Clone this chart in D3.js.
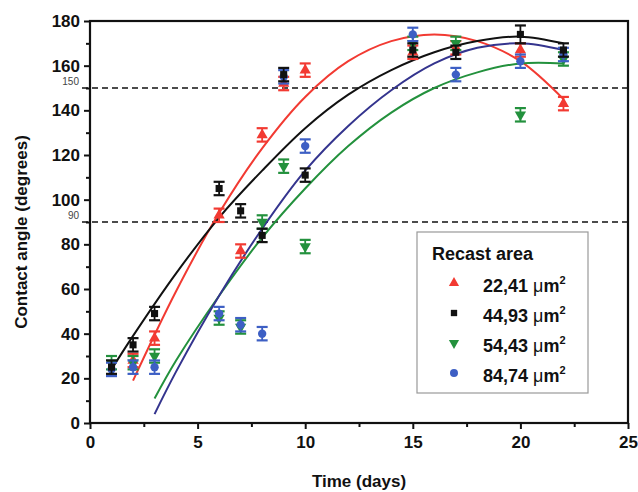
<!DOCTYPE html>
<html>
<head>
<meta charset="utf-8">
<script src="https://cdn.jsdelivr.net/npm/d3@7"></script>
<style>
  html, body { margin: 0; padding: 0; background: #fff; }
  svg { display: block; font-family: "Liberation Sans", Arial, sans-serif; }
</style>
</head>
<body>
<svg id="chart" width="638" height="492"></svg>
<script>
// Contact angle measurements over time for four recast areas
const seriesNames = ["22,41", "44,93", "54,43", "84,74"];
const seriesColors = ["#f23a32", "#111111", "#23913d", "#3d5fc4"];
const fitColors = ["#f23a32", "#111111", "#23913d", "#34348e"];

const redDays = [2, 3, 6, 7, 8, 9, 10, 15, 17, 20, 22];
const redAngle = [28, 38, 93, 77, 129, 152, 158, 166, 168, 167, 143];
const redErr = [3, 3, 3, 3, 3, 3, 3, 3, 3, 3, 3];

const blackDays = [1, 2, 3, 6, 7, 8, 9, 10, 15, 17, 20, 22];
const blackAngle = [25, 35, 49, 105, 95, 84, 156, 111, 167, 166, 174, 167];
const blackErr = [3, 3, 3, 3, 3, 3, 3, 3, 3, 3, 4, 3];

const greenDays = [1, 2, 3, 6, 7, 8, 9, 10, 15, 17, 20, 22];
const greenAngle = [27, 27, 30, 47, 43, 90, 115, 79, 170, 170, 138, 163];
const greenErr = [3, 3, 3, 3, 3, 3, 3, 3, 3, 3, 3, 3];

const blueDays = [1, 2, 3, 6, 7, 8, 9, 10, 15, 17, 20, 22];
const blueAngle = [24, 25, 25, 49, 44, 40, 155, 124, 174, 156, 162, 165];
const blueErr = [3, 3, 3, 3, 3, 3, 3, 3, 3, 3, 3, 3];

// Polynomial trend lines, sampled along each curve
const redFitDays = [2, 4, 6, 8, 10, 12, 14, 16, 18, 20, 22];
const redFit = [19, 59, 94, 123, 146, 162, 171, 174, 171, 162, 145];
const blackFitDays = [1, 2, 4, 6, 8, 10, 12, 14, 16, 18, 20, 22];
const blackFit = [24, 39, 67, 92, 113, 132, 147, 158, 166, 171, 173, 170];
const greenFitDays = [3, 4, 6, 8, 10, 12, 14, 16, 18, 20, 22];
const greenFit = [11, 28, 57, 83, 105, 124, 139, 150, 157, 161, 161];
const blueFitDays = [3, 4, 6, 8, 10, 12, 14, 16, 18, 20, 22];
const blueFit = [4, 23, 57, 87, 113, 133, 149, 161, 168, 170, 167];

const xTicks = [0, 5, 10, 15, 20, 25];
const yTicks = [0, 20, 40, 60, 80, 100, 120, 140, 160, 180];
const refLines = [150, 90];

const svg = d3.select("#chart");
const plot = { left: 90, right: 628, top: 21, bottom: 423 };

const x = d3.scaleLinear().domain([0, 25]).range([plot.left, plot.right]);
const y = d3.scaleLinear().domain([0, 180]).range([plot.bottom, plot.top]);

// Minor ticks
const xMinor = d3.range(2.5, 25, 5);
const yMinor = d3.range(10, 180, 20);

const yAxis = svg.append("g")
  .attr("transform", `translate(${plot.left},0)`)
  .call(d3.axisLeft(y).tickValues(yTicks).tickSize(6).tickPadding(4));
const yMinorAxis = svg.append("g")
  .attr("transform", `translate(${plot.left},0)`)
  .call(d3.axisLeft(y).tickValues(yMinor).tickSize(4).tickFormat(""));
const xAxis = svg.append("g")
  .attr("transform", `translate(0,${plot.bottom})`)
  .call(d3.axisBottom(x).tickValues(xTicks).tickSize(6).tickPadding(7));
const xMinorAxis = svg.append("g")
  .attr("transform", `translate(0,${plot.bottom})`)
  .call(d3.axisBottom(x).tickValues(xMinor).tickSize(4).tickFormat(""));

[yAxis, yMinorAxis, xAxis, xMinorAxis].forEach(g => {
  g.select(".domain").remove();
  g.selectAll("line").attr("stroke", "#111").attr("stroke-width", 2);
  g.selectAll("text")
    .attr("font-family", "Liberation Sans, Arial, sans-serif")
    .attr("font-weight", "bold")
    .attr("font-size", 17)
    .attr("fill", "#111");
});

// Reference lines at 150 and 90 degrees
svg.append("g").selectAll("line").data(refLines).join("line")
  .attr("x1", plot.left - 8).attr("x2", plot.right)
  .attr("y1", d => y(d)).attr("y2", d => y(d))
  .attr("stroke", "#111").attr("stroke-width", 1.3)
  .attr("stroke-dasharray", "6,4");
svg.append("g").selectAll("text").data(refLines).join("text")
  .attr("x", plot.left - 11).attr("y", d => y(d) - 3)
  .attr("text-anchor", "end")
  .attr("font-size", 10).attr("fill", "#444")
  .text(d => d);

// Fitted curves
const fits = [
  { days: redFitDays, vals: redFit },
  { days: blackFitDays, vals: blackFit },
  { days: greenFitDays, vals: greenFit },
  { days: blueFitDays, vals: blueFit }
];
const line = d3.line().curve(d3.curveCatmullRom.alpha(0.5))
  .x(d => x(d[0])).y(d => y(d[1]));
svg.append("g").selectAll("path").data(fits).join("path")
  .attr("d", f => line(d3.zip(f.days, f.vals)))
  .attr("fill", "none")
  .attr("stroke", (f, i) => fitColors[i])
  .attr("stroke-width", 2);

// Data points with error bars
const series = [
  { days: redDays, vals: redAngle, err: redErr, symbol: d3.symbolTriangle, size: 55, rot: 0 },
  { days: greenDays, vals: greenAngle, err: greenErr, symbol: d3.symbolTriangle, size: 55, rot: 180 },
  { days: blueDays, vals: blueAngle, err: blueErr, symbol: d3.symbolCircle, size: 55, rot: 0 },
  { days: blackDays, vals: blackAngle, err: blackErr, symbol: d3.symbolSquare, size: 50, rot: 0 }
];
const colorOf = [seriesColors[0], seriesColors[2], seriesColors[3], seriesColors[1]];

series.forEach((s, si) => {
  const pts = s.days.map((d, i) => ({ d, v: s.vals[i], e: s.err[i] }));
  const g = svg.append("g").attr("stroke", colorOf[si]).attr("fill", colorOf[si]);
  const capW = 5.5;
  pts.forEach(p => {
    const cx = x(p.d), top = y(p.v + p.e), bot = y(p.v - p.e);
    g.append("line").attr("x1", cx).attr("x2", cx).attr("y1", top).attr("y2", bot).attr("stroke-width", 1.8);
    g.append("line").attr("x1", cx - capW).attr("x2", cx + capW).attr("y1", top).attr("y2", top).attr("stroke-width", 2.2);
    g.append("line").attr("x1", cx - capW).attr("x2", cx + capW).attr("y1", bot).attr("y2", bot).attr("stroke-width", 2.2);
  });
  g.selectAll("path").data(pts).join("path")
    .attr("d", d3.symbol().type(s.symbol).size(s.size))
    .attr("stroke", "none")
    .attr("transform", p => `translate(${x(p.d)},${y(p.v)}) rotate(${s.rot})`);
});

// Plot frame
svg.append("rect")
  .attr("x", plot.left).attr("y", plot.top)
  .attr("width", plot.right - plot.left).attr("height", plot.bottom - plot.top)
  .attr("fill", "none").attr("stroke", "#111").attr("stroke-width", 2.2);

// Axis titles
svg.append("text")
  .attr("x", (plot.left + plot.right) / 2).attr("y", 487)
  .attr("text-anchor", "middle")
  .attr("font-weight", "bold").attr("font-size", 17).attr("fill", "#111")
  .text("Time (days)");
svg.append("text")
  .attr("transform", `translate(27,${(plot.top + plot.bottom) / 2 + 10}) rotate(-90)`)
  .attr("text-anchor", "middle")
  .attr("font-weight", "bold").attr("font-size", 17).attr("fill", "#111")
  .text("Contact angle (degrees)");

// Legend
const legend = svg.append("g");
legend.append("rect")
  .attr("x", 417).attr("y", 232).attr("width", 171).attr("height", 161)
  .attr("fill", "#fff").attr("stroke", "#999").attr("stroke-width", 1.2);
legend.append("text")
  .attr("x", 432).attr("y", 260)
  .attr("font-weight", "bold").attr("font-size", 18).attr("fill", "#111")
  .text("Recast area");
const legendSymbols = [
  { symbol: d3.symbolTriangle, rot: 0, size: 45 },
  { symbol: d3.symbolSquare, rot: 0, size: 40 },
  { symbol: d3.symbolTriangle, rot: 180, size: 45 },
  { symbol: d3.symbolCircle, rot: 0, size: 50 }
];
seriesNames.forEach((name, i) => {
  const cy = 283 + i * 30;
  legend.append("path")
    .attr("d", d3.symbol().type(legendSymbols[i].symbol).size(legendSymbols[i].size))
    .attr("fill", seriesColors[i])
    .attr("transform", `translate(454,${cy}) rotate(${legendSymbols[i].rot})`);
  const t = legend.append("text")
    .attr("x", 483).attr("y", cy + 9)
    .attr("font-size", 18).attr("fill", "#111");
  t.append("tspan").attr("font-weight", "bold").text(name + " ");
  t.append("tspan").attr("font-weight", "normal").text("\u03bc");
  t.append("tspan").attr("font-weight", "bold").text("m");
  t.append("tspan").attr("font-weight", "bold").attr("font-size", 11).attr("dy", -8).text("2");
});
</script>
</body>
</html>
